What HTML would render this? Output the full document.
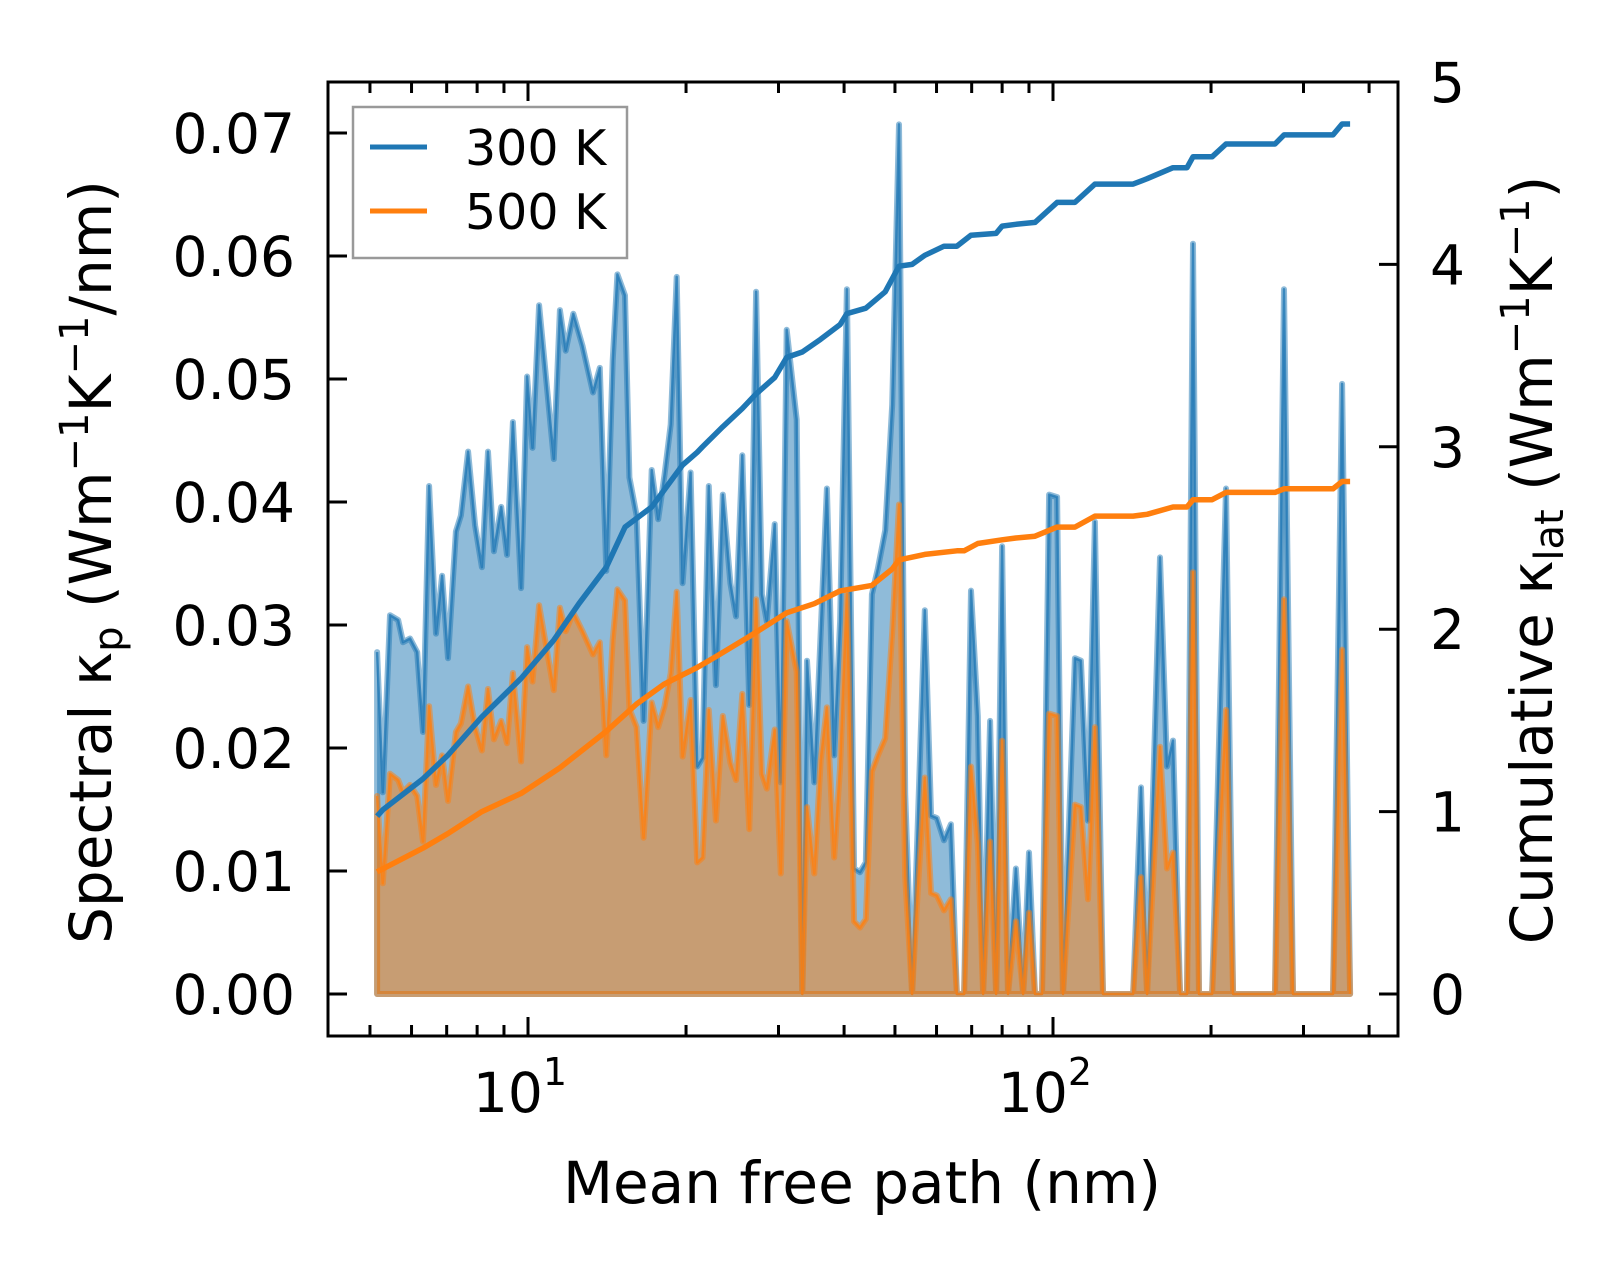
<!DOCTYPE html>
<html><head><meta charset="utf-8"><style>
html,body{margin:0;padding:0;background:#fff;}
svg{display:block;font-family:"DejaVu Sans","Liberation Sans",sans-serif;}
</style></head><body>
<svg id="chart" width="1623" height="1276" viewBox="0 0 1623 1276" xmlns="http://www.w3.org/2000/svg">
<rect x="0" y="0" width="1623" height="1276" fill="#fff"/>
<g id="plot"></g>
<g id="axes"></g>
<text x="862" y="1203" text-anchor="middle" font-size="58">Mean free path (nm)</text>
<text transform="translate(111,562) rotate(-90)" text-anchor="middle" font-size="58">Spectral κ<tspan dy="11" font-size="40">p</tspan><tspan dy="-11"> (Wm</tspan><tspan dy="-23" font-size="40">−1</tspan><tspan dy="23">K</tspan><tspan dy="-23" font-size="40">−1</tspan><tspan dy="23">/nm)</tspan></text>
<text transform="translate(1552,560) rotate(-90)" text-anchor="middle" font-size="58">Cumulative κ<tspan dy="11" font-size="40">lat</tspan><tspan dy="-11"> (Wm</tspan><tspan dy="-23" font-size="40">−1</tspan><tspan dy="23">K</tspan><tspan dy="-23" font-size="40">−1</tspan><tspan dy="23">)</tspan></text>
<g>
<rect x="353" y="107" width="274" height="151" fill="#fff" fill-opacity="0.8" stroke="#999" stroke-width="2.5"/>
<line x1="370" x2="427" y1="147" y2="147" stroke="#1f77b4" stroke-width="5"/>
<text x="465" y="165" font-size="49">300 K</text>
<line x1="370" x2="427" y1="211" y2="211" stroke="#ff7f0e" stroke-width="5"/>
<text x="465" y="229" font-size="49">500 K</text>
</g>
</svg>
<script>
const mfp=[5.16,5.29,5.46,5.66,5.78,5.96,6.15,6.31,6.48,6.68,6.86,7.04,7.29,7.45,7.69,7.93,8.17,8.39,8.61,8.89,9.12,9.36,9.70,9.96,10.2,10.5,11.2,11.5,11.8,12.2,12.7,13.3,13.7,14.1,14.5,14.8,15.3,15.6,16.1,16.6,17.2,17.7,18.2,18.7,19.2,19.7,20.4,21.0,21.5,22.1,22.8,23.5,24.3,24.9,25.6,26.4,27.2,27.9,28.5,29.5,30.3,31.1,32.5,33.3,34.0,35.1,36.1,37.1,38.3,39.3,40.5,41.8,42.9,44.0,45.2,46.4,47.9,49.4,50.9,52.3,53.9,55.3,57.0,58.6,60.1,62.0,63.9,65.6,67.7,69.8,71.9,73.6,75.9,77.9,80.0,82.1,85.0,87.7,90.0,92.4,95.3,98.3,101.8,104.5,110.1,113.0,116.6,120.2,124.5,142.1,147.1,151.1,159.9,164.9,169.3,174.6,180.0,184.8,189.7,200.9,213.6,220.3,264.8,275.4,286.5,341.5,355.3,368.0];
const spec300=[.0278,.0164,.0308,.0304,.0286,.0289,.0278,.0213,.0413,.0293,.0340,.0273,.0376,.0389,.0441,.0381,.0347,.0441,.0360,.0396,.0357,.0465,.0330,.0502,.0444,.0560,.0435,.0556,.0523,.0553,.0527,.0489,.0509,.0344,.0515,.0585,.0568,.0420,.0389,.0222,.0426,.0386,.0422,.0463,.0583,.0334,.0424,.0185,.0192,.0413,.0251,.0406,.0334,.0307,.0438,.0235,.0571,.0325,.0303,.0382,.0172,.0540,.0467,0,.0271,.0172,.0294,.0411,.0194,.0303,.0573,.0102,.0099,.0107,.0325,.0346,.0377,.0479,.0707,.0163,0,.0141,.0312,.0145,.0143,.0125,.0138,0,0,.0328,.0226,0,.0222,0,.0364,0,.0102,0,.0115,0,0,.0406,.0404,0,.0273,.0271,.0141,.0384,0,0,.0168,0,.0355,.0185,.0206,0,0,.0610,0,0,.0411,0,0,.0573,0,0,.0496,0];
const spec500=[.0161,.0090,.0179,.0174,.0164,.0170,.0161,.0124,.0234,.0170,.0194,.0157,.0213,.0220,.0250,.0217,.0198,.0248,.0207,.0222,.0204,.0261,.0189,.0282,.0254,.0316,.0247,.0314,.0295,.0310,.0295,.0276,.0286,.0194,.0288,.0329,.0320,.0232,.0217,.0127,.0237,.0217,.0234,.0261,.0327,.0193,.0239,.0107,.0111,.0231,.0141,.0226,.0188,.0174,.0244,.0134,.0321,.0179,.0167,.0215,.0098,.0303,.0262,0,.0152,.0098,.0190,.0233,.0111,.0185,.0325,.0059,.0054,.0061,.0181,.0194,.0208,.0294,.0398,.0095,0,.0086,.0176,.0082,.0080,.0068,.0077,0,0,.0185,.0122,0,.0124,0,.0206,0,.0059,0,.0066,0,0,.0228,.0226,0,.0154,.0152,.0077,.0217,0,0,.0095,0,.0201,.0102,.0115,0,0,.0343,0,0,.0231,0,0,.0321,0,0,.0280,0];
const cumX300=[5.16,5.29,6.31,7.04,8.17,9.70,11.2,12.5,14.1,15.3,17.2,19.7,21.0,21.5,23.5,25.6,27.2,29.5,31.1,33.3,36.1,39.3,40.5,44.0,47.9,50.9,53.9,57.0,62.0,65.6,69.8,77.9,80.0,85.0,92.4,101.8,110.1,120.2,142.1,151.1,169.3,180.0,184.8,200.9,213.6,264.8,275.4,341.5,355.3,368.0];
const cum300=[0.975,1.01,1.18,1.31,1.52,1.73,1.94,2.14,2.34,2.56,2.67,2.90,2.97,3.00,3.11,3.21,3.29,3.38,3.49,3.52,3.59,3.67,3.73,3.76,3.85,3.99,4.00,4.05,4.10,4.10,4.16,4.17,4.21,4.22,4.23,4.34,4.34,4.44,4.44,4.47,4.53,4.53,4.59,4.59,4.66,4.66,4.71,4.71,4.77,4.77];
const cumX500=[5.16,6.31,7.04,8.17,9.70,11.5,14.1,16.1,18.2,21.0,22.8,26.4,31.1,35.1,39.3,45.2,49.4,50.9,57.0,65.6,67.7,71.9,80.0,85.0,92.4,101.8,110.1,120.2,142.1,151.1,169.3,180.0,184.8,200.9,213.6,264.8,275.4,341.5,355.3,368.0];
const cum500=[0.67,0.80,0.88,1.00,1.10,1.24,1.44,1.59,1.70,1.79,1.85,1.96,2.09,2.14,2.21,2.24,2.33,2.38,2.41,2.43,2.43,2.47,2.49,2.50,2.51,2.56,2.56,2.62,2.62,2.63,2.67,2.67,2.71,2.71,2.75,2.75,2.77,2.77,2.81,2.81];
const yTicksL=["0.00","0.01","0.02","0.03","0.04","0.05","0.06","0.07"];
const yTicksR=["0","1","2","3","4","5"];

const NS="http://www.w3.org/2000/svg";
const L=328,R=1398,T=82,B=1036;
function xs(m){return 528+525*(Math.log10(m)-1);}
function yl(v){return 994-v*12300;}
function yr(c){return 994-c*182.4;}
function mk(tag,attrs,parent){const e=document.createElementNS(NS,tag);for(const k in attrs)e.setAttribute(k,attrs[k]);parent.appendChild(e);return e;}
const plot=document.getElementById('plot'),axes=document.getElementById('axes');

function area(vals,color,name){
  let pts=xs(mfp[0]).toFixed(1)+","+yl(0).toFixed(1);
  for(let i=0;i<mfp.length;i++)pts+=" "+xs(mfp[i]).toFixed(1)+","+yl(vals[i]).toFixed(1);
  pts+=" "+xs(mfp[mfp.length-1]).toFixed(1)+","+yl(0).toFixed(1);
  const p=mk('polygon',{points:pts,fill:color,'fill-opacity':0.5,stroke:color,'stroke-opacity':0.5,'stroke-width':6,'stroke-linejoin':'round'},plot);
  
  
  let lp="";
  for(let i=0;i<mfp.length;i++)lp+=(i?" ":"")+xs(mfp[i]).toFixed(1)+","+yl(vals[i]).toFixed(1);
  const l=mk('polyline',{points:lp,fill:'none',stroke:color,'stroke-opacity':0.75,'stroke-width':2.5,'stroke-linejoin':'round'},plot);
  
  
}
area(spec300,'#1f77b4','spectral-300k');
area(spec500,'#ff7f0e','spectral-500k');
function cum(xv,yv,color,name){
  let lp="";
  for(let i=0;i<xv.length;i++)lp+=(i?" ":"")+xs(xv[i]).toFixed(1)+","+yr(yv[i]).toFixed(1);
  const l=mk('polyline',{points:lp,fill:'none',stroke:color,'stroke-width':5.5,'stroke-linejoin':'round'},plot);
  
  
}
cum(cumX300,cum300,'#1f77b4','cumulative-300k');
cum(cumX500,cum500,'#ff7f0e','cumulative-500k');

const fr=mk('rect',{x:L,y:T,width:R-L,height:B-T,fill:'none',stroke:'#000','stroke-width':3},axes);


yTicksL.forEach((t,i)=>{const v=i*0.01,y=yl(v);
  const tk=mk('line',{x1:L,x2:L+19,y1:y,y2:y,stroke:'#000','stroke-width':3},axes);
  
  
  const tx=mk('text',{x:295,y:y+20,'text-anchor':'end','font-size':55},axes);tx.textContent=t;
  
  
});
yTicksR.forEach((t,i)=>{const y=yr(i);
  const tk=mk('line',{x1:R-19,x2:R,y1:y,y2:y,stroke:'#000','stroke-width':3},axes);
  
  
  const tx=mk('text',{x:1430,y:y+20,'text-anchor':'start','font-size':55},axes);tx.textContent=t;
  
  
});
for(let d=0;d<=2;d++){for(let k=1;k<=9;k++){const m=k*Math.pow(10,d),x=xs(m);if(x<L+2||x>R-2)continue;
  const len=k===1?19:11;
  const b=mk('line',{x1:x,x2:x,y1:B,y2:B-len,stroke:'#000','stroke-width':3},axes);
  
  
  const t=mk('line',{x1:x,x2:x,y1:T,y2:T+len,stroke:'#000','stroke-width':3},axes);
  
  
}}
[1,2].forEach(p=>{const x=xs(Math.pow(10,p));
  const tx=mk('text',{x:x-8,y:1112,'text-anchor':'middle','font-size':55},axes);
  
  
  tx.innerHTML='10<tspan dy="-27" font-size="38">'+p+'</tspan>';
});
</script>
</body></html>
